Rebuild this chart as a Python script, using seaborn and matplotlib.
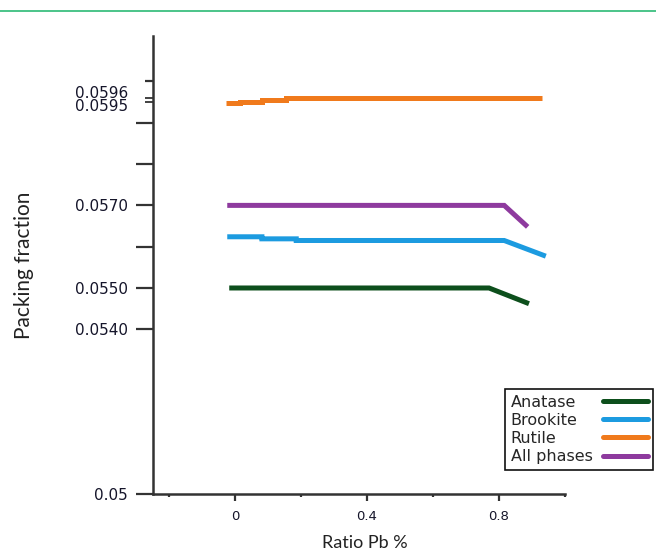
import matplotlib
matplotlib.use("Agg")
import matplotlib.pyplot as plt
import matplotlib.transforms as mtransforms
from matplotlib.lines import Line2D
import seaborn as sns
import pandas as pd

# values (steps are kept as repeated x)
anatase_x = [-0.017, 0.770, 0.891]
anatase_y = [0.05500, 0.05500, 0.05462]

brookite_x = [-0.023, 0.082, 0.082, 0.186, 0.186, 0.816, 0.942]
brookite_y = [0.05624, 0.05624, 0.05619, 0.05619, 0.05615, 0.05615, 0.05577]

rutile_x = [-0.028, 0.015, 0.015, 0.082, 0.082, 0.154, 0.154, 0.930]
rutile_y = [0.05947, 0.05947, 0.05951, 0.05951, 0.05954, 0.05954, 0.05959, 0.05959]

allph_x = [-0.023, 0.816, 0.887]
allph_y = [0.05700, 0.05700, 0.05648]

series = ["Anatase", "Brookite", "Rutile", "All phases"]
colors = ["#0d4f1c", "#1c9be0", "#f07a1c", "#8e3a9e"]

ytick_vals = [0.05, 0.054, 0.055, 0.056, 0.057, 0.058, 0.059, 0.0595, 0.0596, 0.060]
ytick_labs = ["0.05", "0.0540", "0.0550", "", "0.0570", "", "", "0.0595", "0.0596", ""]
xtick_vals = [0, 0.4, 0.8]
xtick_labs = ["0", "0.4", "0.8"]

df = pd.concat([
    pd.DataFrame({"x": anatase_x, "y": anatase_y, "phase": "Anatase"}),
    pd.DataFrame({"x": brookite_x, "y": brookite_y, "phase": "Brookite"}),
    pd.DataFrame({"x": rutile_x, "y": rutile_y, "phase": "Rutile"}),
    pd.DataFrame({"x": allph_x, "y": allph_y, "phase": "All phases"}),
], ignore_index=True)

sns.set_theme(style="white")
plt.rcParams['font.family'] = ['DejaVu Sans']

fig = plt.figure(figsize=(6.56, 5.53), dpi=100)
ax = fig.add_axes([0.2332, 0.1058, 0.628, 0.829])

for name, col in zip(series, colors):
    d = df[df["phase"] == name]
    sns.lineplot(data=d, x="x", y="y", ax=ax, color=col, lw=3.6,
                 sort=False, estimator=None, label=name,
                 solid_capstyle="butt", solid_joinstyle="miter")

ax.set_xlim(-0.248, 1.0)
ax.set_ylim(0.05, 0.0611)

ax.set_yticks(ytick_vals)
ax.set_yticklabels(ytick_labs)
ax.set_xticks(xtick_vals)
ax.set_xticklabels(xtick_labs)
ax.set_xticks([-0.2, 0.2, 0.6, 1.0], minor=True)

ax.tick_params(axis="y", which="major", left=True, length=12, width=1.6,
               color="#333333", pad=6, labelsize=11, labelcolor="#15152a")
ax.tick_params(axis="x", which="major", bottom=True, length=5, width=1.6,
               color="#333333", pad=6, labelsize=9.5, labelcolor="#15152a")
ax.tick_params(axis="x", which="minor", bottom=True, length=2.5, width=1.6,
               color="#333333")

yt = ax.yaxis.get_major_ticks()
yt[9].tick1line.set_markersize(6)
for i in (7, 8):
    yt[i].tick1line.set_color("#d02020")
    yt[i].tick1line.set_markersize(6)
    yt[i].tick1line.set_markeredgewidth(1.3)
labs = ax.get_yticklabels()
labs[8].set_transform(labs[8].get_transform() +
                      mtransforms.ScaledTranslation(0, 4.5 / 72, fig.dpi_scale_trans))
labs[7].set_transform(labs[7].get_transform() +
                      mtransforms.ScaledTranslation(0, -2 / 72, fig.dpi_scale_trans))

for s in ["top", "right"]:
    ax.spines[s].set_visible(False)
for s in ["left", "bottom"]:
    ax.spines[s].set_color("#333333")
    ax.spines[s].set_linewidth(1.8)

ax.set_xlabel("Ratio Pb %", family="Lato", fontsize=13, color="#222222")
ax.set_ylabel("Packing fraction", family="Lato", fontsize=15, color="#222222")
ax.xaxis.set_label_coords(0.515, -0.088)
ax.yaxis.set_label_coords(-0.29, 0.50)

handles = [Line2D([0], [0], color=c, lw=3.6) for c in colors]
leg = ax.legend(handles, series, loc="upper left",
                bbox_to_anchor=(505 / 656, 1 - 389 / 553),
                bbox_transform=fig.transFigure, markerfirst=False,
                fontsize=11.5, labelspacing=0.2, borderpad=0.35,
                handlelength=2.8, handletextpad=0.65, borderaxespad=0,
                fancybox=False, framealpha=1, edgecolor="#111111")
leg.get_frame().set_linewidth(1.2)

# left-align the labels while keeping the handles in one column
renderer = fig.canvas.get_renderer()
widths = [t.get_window_extent(renderer).width for t in leg.get_texts()]
wmax = max(widths)
col = leg._legend_handle_box.get_children()[0]
col.align = "left"
for row, w in zip(col.get_children(), widths):
    row.sep = row.sep + (wmax - w) * 72 / fig.dpi

fig.add_artist(Line2D([0, 1], [1 - 11 / 553, 1 - 11 / 553],
                      transform=fig.transFigure, color="#3dbf80", lw=1.3))

fig.savefig("out.png", dpi=100)
